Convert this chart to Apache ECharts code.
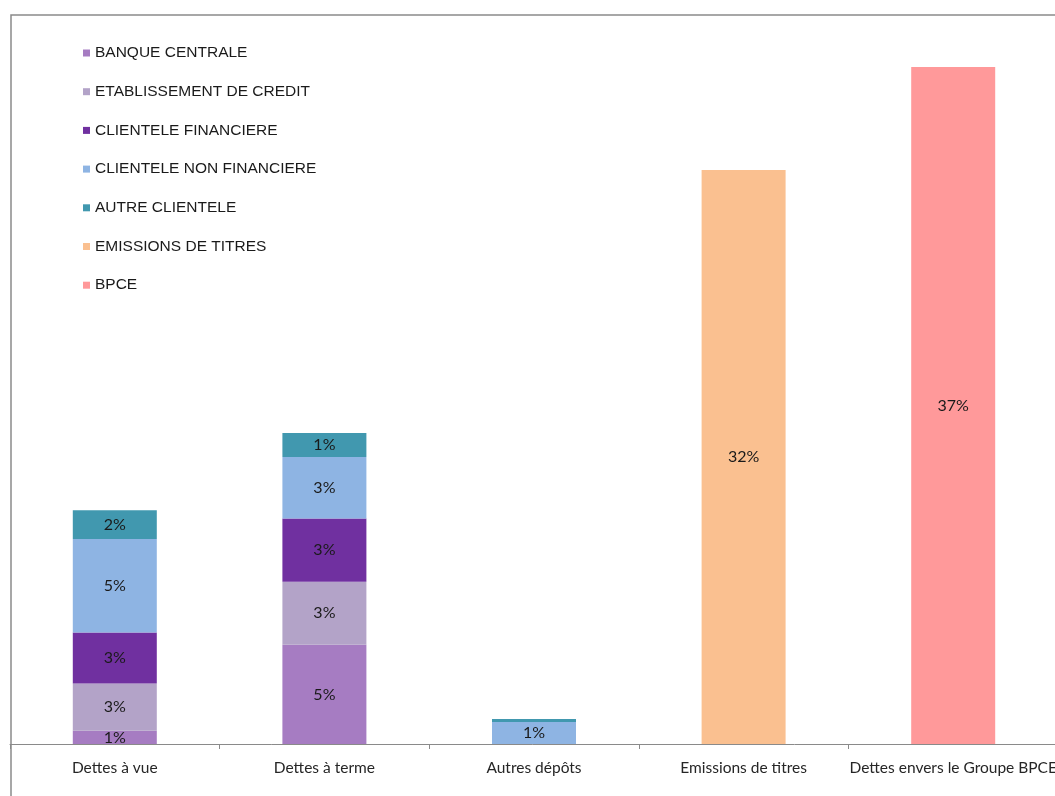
<!DOCTYPE html>
<html>
<head>
<meta charset="utf-8">
<script src="https://cdn.jsdelivr.net/npm/echarts@6/dist/echarts.min.js"></script>
<style>
  html, body { margin: 0; padding: 0; background: #ffffff; }
  #chart { width: 1055px; height: 796px; }
</style>
</head>
<body>
<div id="chart"></div>
<script>
// Répartition des dettes par nature de contrepartie (en % du total)
const categories = ['Dettes à vue', 'Dettes à terme', 'Autres dépôts', 'Emissions de titres', 'Dettes envers le Groupe BPCE'];

const banqueCentrale       = [0.73, 5.45, null, null, null];
const etablissementCredit  = [2.60, 3.46, null, null, null];
const clienteleFinanciere  = [2.80, 3.48, null, null, null];
const clienteleNonFinanc   = [5.13, 3.38, 1.21, null, null];
const autreClientele       = [1.59, 1.32, 0.16, null, null];
const emissionsTitres      = [null, null, null, 31.54, null];
const bpce                 = [null, null, null, null, 37.2];

const seriesNames = [
  'BANQUE CENTRALE',
  'ETABLISSEMENT DE CREDIT',
  'CLIENTELE FINANCIERE',
  'CLIENTELE NON FINANCIERE',
  'AUTRE CLIENTELE',
  'EMISSIONS DE TITRES',
  'BPCE'
];
const seriesValues = [banqueCentrale, etablissementCredit, clienteleFinanciere, clienteleNonFinanc, autreClientele, emissionsTitres, bpce];
const seriesColors = ['#a67cc2', '#b3a3c8', '#7030a0', '#8eb4e3', '#4198af', '#fac090', '#ff999a'];

const labelFont = 'Lato, "Open Sans", sans-serif';

const chart = echarts.init(document.getElementById('chart'), null, { renderer: 'canvas' });

const series = seriesNames.map((name, i) => ({
  name: name,
  type: 'bar',
  stack: 'total',
  barWidth: 84,
  data: seriesValues[i],
  itemStyle: { color: seriesColors[i] },
  label: {
    show: true,
    position: 'inside',
    color: '#1a1a1a',
    fontFamily: labelFont,
    fontSize: 16,
    formatter: p => (p.value == null || p.value < 0.5) ? '' : Math.round(p.value) + '%'
  },
  emphasis: { disabled: true }
}));

chart.setOption({
  animation: false,
  backgroundColor: '#ffffff',
  graphic: [{
    type: 'rect',
    shape: { x: 11, y: 15, width: 1200, height: 900 },
    style: { fill: 'none', stroke: '#8a8a8a', lineWidth: 1.5 },
    silent: true,
    z: 10
  }],
  legend: {
    orient: 'vertical',
    left: 78,
    top: 40,
    itemWidth: 7,
    itemHeight: 7,
    itemGap: 22.7,
    icon: 'rect',
    data: seriesNames,
    selectedMode: false,
    textStyle: {
      fontFamily: '"Liberation Sans", Arial, sans-serif',
      fontSize: 15.5,
      color: '#1a1a1a'
    }
  },
  grid: { left: 10, width: 1048, top: 16, bottom: 52, containLabel: false, outerBoundsMode: 'none' },
  xAxis: {
    type: 'category',
    data: categories,
    axisLine: { lineStyle: { color: '#8a8a8a', width: 1 } },
    axisTick: { show: true, length: 5, lineStyle: { color: '#8a8a8a' } },
    axisLabel: {
      color: '#262626',
      fontFamily: labelFont,
      fontSize: 15.5,
      margin: 16,
      interval: 0
    }
  },
  yAxis: {
    type: 'value',
    min: 0,
    max: 40,
    show: false,
    splitLine: { show: false }
  },
  series: series
});
</script>
</body>
</html>
